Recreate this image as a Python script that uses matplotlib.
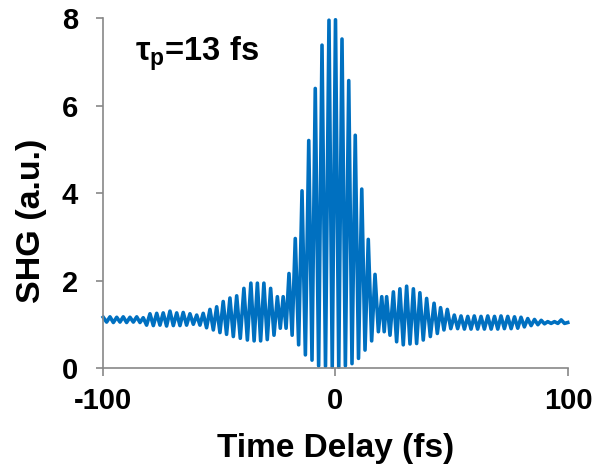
import numpy as np
import matplotlib.pyplot as plt

plt.rcParams['font.family'] = ['Liberation Sans', 'DejaVu Sans']
plt.rcParams['font.weight'] = 'bold'
plt.rcParams['axes.unicode_minus'] = False

# fringe maxima of the interferometric autocorrelation (delay in fs, SHG in a.u.)
peak_delay = [-99.9, -97.0, -94.1, -91.3, -88.4, -85.5, -82.7, -79.8, -76.9, -74.1,
              -71.2, -68.3, -65.5, -62.6, -59.7, -56.9, -54.0, -51.1, -48.3, -45.4,
              -42.5, -39.4, -36.4, -33.6, -30.8, -27.9, -25.0, -22.5, -20.0, -17.3,
              -14.4, -11.5, -8.7, -5.8, -2.8, 0.0, 2.8, 5.7, 8.5, 11.3,
              14.1, 17.0, 19.9, 22.0, 24.9, 27.7, 30.6, 33.5, 36.3, 39.2,
              42.4, 45.2, 48.1, 51.1, 54.0, 56.9, 59.7, 62.6, 65.5, 68.4,
              71.2, 74.1, 77.0, 79.8, 82.7, 85.6, 88.5, 91.3, 94.2, 97.1, 99.9]
peak_shg = [1.16, 1.17, 1.16, 1.17, 1.16, 1.17, 1.15, 1.24, 1.25, 1.26,
            1.30, 1.26, 1.27, 1.24, 1.21, 1.25, 1.34, 1.40, 1.52, 1.60,
            1.65, 1.82, 1.94, 1.94, 1.94, 1.82, 1.63, 1.63, 2.16, 2.96,
            4.05, 5.20, 6.39, 7.38, 7.95, 7.96, 7.52, 6.57, 5.32, 4.09,
            2.94, 2.14, 1.63, 1.63, 1.74, 1.81, 1.87, 1.81, 1.72, 1.59,
            1.48, 1.38, 1.34, 1.21, 1.19, 1.18, 1.19, 1.18, 1.19, 1.18,
            1.19, 1.18, 1.17, 1.16, 1.13, 1.11, 1.09, 1.06, 1.06, 1.10, 1.04]
# fringe minima, one between each pair of neighbouring maxima
trough_shg = [1.05, 1.04, 1.05, 1.04, 1.05, 1.04, 0.98, 0.97, 0.98, 0.96,
              0.97, 0.97, 0.98, 1.00,
              0.98, 0.92, 0.87, 0.81, 0.77, 0.72, 0.68, 0.64, 0.62, 0.62,
              0.65, 0.75, 0.91, 0.91, 0.75, 0.53, 0.30, 0.18, 0.05, 0.04, 0.02,
              0.02, 0.05, 0.10, 0.22, 0.41, 0.62, 0.83, 0.83, 0.75, 0.60,
              0.53, 0.55, 0.56, 0.64, 0.72, 0.79, 0.87, 0.90,
              0.90, 0.89, 0.89, 0.89, 0.89, 0.89, 0.89, 0.90, 0.90, 0.91,
              0.94, 0.97, 0.99, 1.01, 1.02, 1.02, 1.02]

x_ticks = [-100, 0, 100]
y_ticks = [0, 2, 4, 6, 8]

# interleave maxima and minima into one trace
delay, shg = [], []
for i in range(len(peak_delay)):
    delay.append(peak_delay[i])
    shg.append(peak_shg[i])
    if i < len(trough_shg):
        delay.append((peak_delay[i] + peak_delay[i + 1]) / 2)
        shg.append(trough_shg[i])

fig = plt.figure(figsize=(5.93, 4.74), dpi=100)
ax = fig.add_axes([0.1737, 0.2236, 0.7841, 0.7384])

ax.plot(delay, shg, color='#0070C0', lw=2.6, solid_joinstyle='round', clip_on=False)

ax.set_xlim(-100, 100)
ax.set_ylim(0, 8)
ax.set_xticks(x_ticks)
ax.set_yticks(y_ticks)

grey = '#878787'
for side in ['top', 'right']:
    ax.spines[side].set_visible(False)
for side in ['left', 'bottom']:
    ax.spines[side].set_color(grey)
    ax.spines[side].set_linewidth(1.2)

ax.tick_params(axis='x', direction='out', length=6, width=1.2, color=grey,
               labelsize=21, pad=8)
ax.tick_params(axis='y', direction='out', length=5, width=1.2, color=grey,
               labelsize=21, pad=13)
for lab in ax.get_xticklabels() + ax.get_yticklabels():
    lab.set_fontweight('bold')

ax.set_xlabel('Time Delay (fs)', fontsize=24, fontweight='bold')
ax.set_ylabel('SHG (a.u.)', fontsize=24.5, fontweight='bold')
ax.xaxis.set_label_coords(0.5, -0.185)
ax.yaxis.set_label_coords(-0.12, 0.42)

ax.text(0.069, 0.88, 'τ$_\\mathregular{p}$=13 fs', transform=ax.transAxes,
        fontsize=23.5, fontweight='bold', ha='left', va='baseline')

fig.savefig('out.png', dpi=100)
